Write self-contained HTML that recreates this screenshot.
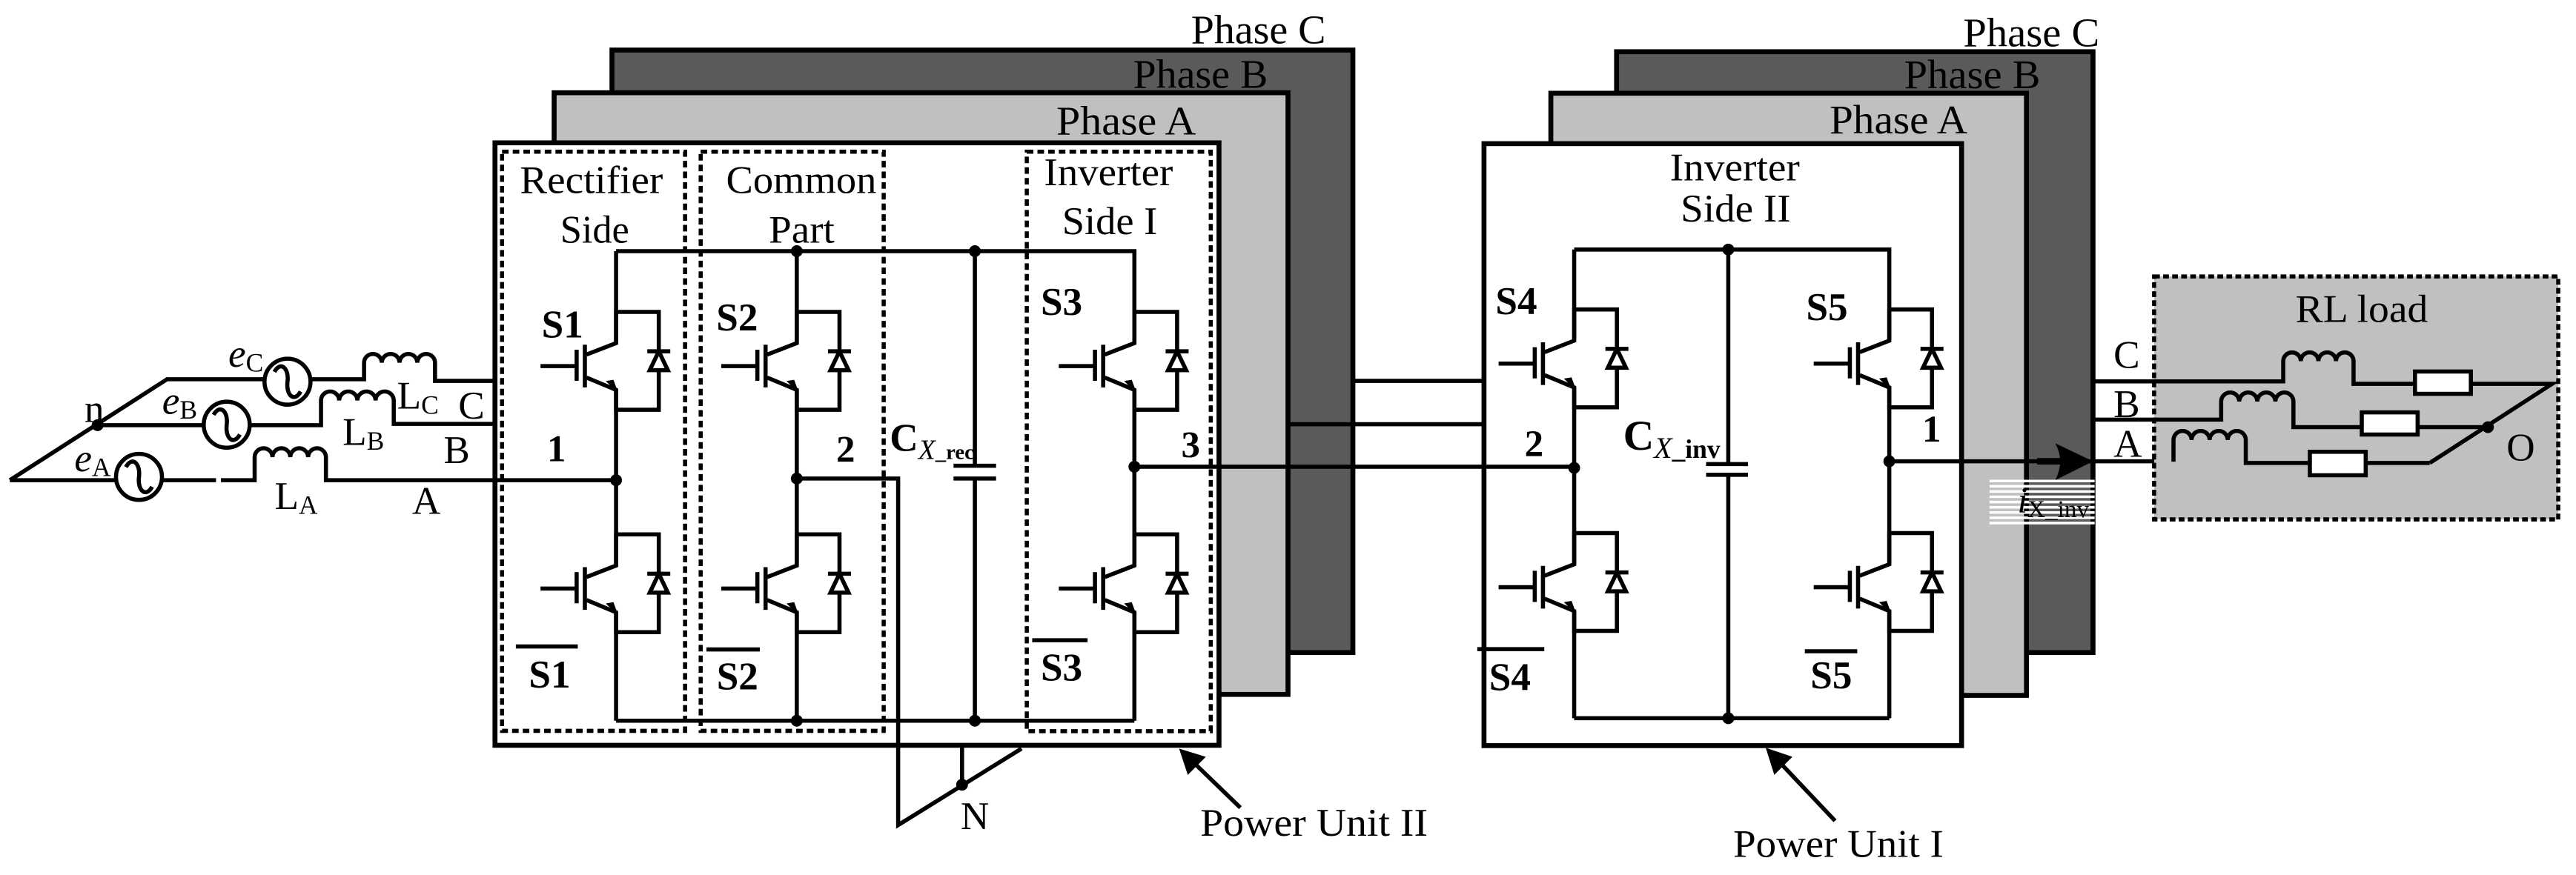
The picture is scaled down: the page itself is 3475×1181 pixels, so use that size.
<!DOCTYPE html>
<html><head><meta charset="utf-8"><style>
html,body{margin:0;padding:0;background:#fff;}
svg{display:block;}
text{font-family:"Liberation Serif","Times New Roman",serif;fill:#000;}
.b{font-weight:bold;}
</style></head><body>
<svg width="3475" height="1181" viewBox="0 0 1568 533" preserveAspectRatio="none" xmlns="http://www.w3.org/2000/svg">
<defs>
<g id="sw" fill="none" stroke="#000" stroke-width="2.5">
<path d="M0,0 H26 V59.6 H0"/>
<path d="M0,-1 V19 L-18,26"/>
<path d="M-19,20 V46"/>
<path d="M-24,23 V42"/>
<path d="M-46,33 H-24"/>
<path d="M-18,40 L0,47.5 V61"/>
<path d="M19,24 H33"/>
<path d="M26,24 L20.5,35.5 H31.5 Z" fill="#fff"/>
<path d="M0,47.5 L-5,42.5 L-2,42 Z" fill="#000" stroke-width="1.2"/>
</g>
<g id="src">
<circle cx="0" cy="0" r="14" fill="#fff" stroke="#000" stroke-width="2.5"/>
<path d="M-8,-6 C-4,-13 1,-8 0,0 C-1,8 4,13 8,6" fill="none" stroke="#000" stroke-width="2.5"/>
</g>
</defs>

<!-- Power Unit II boxes -->
<rect x="372.5" y="30.5" width="451" height="367" fill="#5a5a5a" stroke="#000" stroke-width="3"/>
<rect x="337.3" y="56.5" width="446.7" height="366.5" fill="#c0c0c0" stroke="#000" stroke-width="3"/>
<rect x="301.3" y="87" width="440.7" height="367" fill="#fff" stroke="#000" stroke-width="3"/>
<!-- Power Unit I boxes -->
<rect x="984" y="31.5" width="290" height="366" fill="#5a5a5a" stroke="#000" stroke-width="3"/>
<rect x="944" y="56.8" width="289.5" height="366.8" fill="#c0c0c0" stroke="#000" stroke-width="3"/>
<rect x="903.3" y="87.5" width="290.7" height="366.7" fill="#fff" stroke="#000" stroke-width="3"/>

<!-- Phase labels -->
<text x="725" y="26.3" font-size="25" textLength="82" lengthAdjust="spacingAndGlyphs">Phase C</text>
<text x="689.7" y="53.4" font-size="25" textLength="82" lengthAdjust="spacingAndGlyphs">Phase B</text>
<text x="643" y="82" font-size="25" textLength="85" lengthAdjust="spacingAndGlyphs">Phase A</text>
<text x="1195" y="28.3" font-size="25" textLength="83" lengthAdjust="spacingAndGlyphs">Phase C</text>
<text x="1159" y="53.8" font-size="25" textLength="83" lengthAdjust="spacingAndGlyphs">Phase B</text>
<text x="1113.6" y="81.2" font-size="25" textLength="84" lengthAdjust="spacingAndGlyphs">Phase A</text>

<!-- dashed boxes -->
<g fill="none" stroke="#000" stroke-width="2.5" stroke-dasharray="4 2.5">
<rect x="305.6" y="92.4" width="111.4" height="352.8"/>
<rect x="426.5" y="92.4" width="111.4" height="352.8"/>
<rect x="625" y="92.4" width="112" height="353"/>
</g>

<text x="316.5" y="117.5" font-size="24" textLength="87" lengthAdjust="spacingAndGlyphs">Rectifier</text>
<text x="341" y="147.7" font-size="24" textLength="42" lengthAdjust="spacingAndGlyphs">Side</text>
<text x="442" y="117.5" font-size="24" textLength="91.5" lengthAdjust="spacingAndGlyphs">Common</text>
<text x="468" y="147.7" font-size="24" textLength="40" lengthAdjust="spacingAndGlyphs">Part</text>
<text x="635.5" y="112.8" font-size="24" textLength="78.5" lengthAdjust="spacingAndGlyphs">Inverter</text>
<text x="646.5" y="142.6" font-size="24" textLength="58" lengthAdjust="spacingAndGlyphs">Side I</text>
<text x="1016.5" y="109.8" font-size="24" textLength="79" lengthAdjust="spacingAndGlyphs">Inverter</text>
<text x="1023" y="135" font-size="24" textLength="67" lengthAdjust="spacingAndGlyphs">Side II</text>

<!-- wires -->
<g fill="none" stroke="#000" stroke-width="2.5">
<path d="M375,153 H690.5 V209"/>
<path d="M375,439 H690.5"/>
<path d="M375,153 V209 M375,237.5 V344.5 M375,373 V439"/>
<path d="M485,153 V209 M485,237.5 V344.5 M485,373 V439"/>
<path d="M690.5,237.5 V344.5 M690.5,373 V439"/>
<path d="M593.4,153 V283.7 M593.4,291.5 V439 M580.4,283.7 H606.3 M580.4,291.5 H606.3"/>
<path d="M485,291.5 H546.7 V502.6 L621.8,456 M585.6,478 V454"/>
<path d="M958.2,152 H1150 V207.5"/>
<path d="M958.2,437.5 H1150"/>
<path d="M958.2,152 V207.5 M958.2,236 V343.7 M958.2,372.2 V437.5"/>
<path d="M1150,236 V343.7 M1150,372.2 V437.5"/>
<path d="M1052,152 V282.7 M1052,289.2 V437.5 M1038.5,282.7 H1064 M1038.5,289.2 H1064"/>
<path d="M690.5,284.3 H958.2"/>
<path d="M824,232 H903.3"/>
<path d="M784,258.4 H903.3"/>
<path d="M1150,281 H1323"/>
<path d="M6,292.5 L101.7,231 H221.6 V221 a5.4,5.4 0 0 1 10.8,0 a5.4,5.4 0 0 1 10.8,0 a5.4,5.4 0 0 1 10.8,0 a5.4,5.4 0 0 1 10.8,0 V232 H301.2"/>
<path d="M59.4,259 H195.4 V244 a5.5,5.5 0 0 1 11.07,0 a5.5,5.5 0 0 1 11.07,0 a5.5,5.5 0 0 1 11.07,0 a5.5,5.5 0 0 1 11.07,0 V258.2 H301.2"/>
<path d="M6,292.5 H131.5 M134.5,292.5 H155 V278.5 a5.4,5.4 0 0 1 10.85,0 a5.4,5.4 0 0 1 10.85,0 a5.4,5.4 0 0 1 10.85,0 a5.4,5.4 0 0 1 10.85,0 V292.5 H375"/>
</g>
<use href="#src" x="175" y="232.5"/>
<use href="#src" x="138" y="258.7"/>
<use href="#src" x="84.6" y="290.5"/>

<use href="#sw" x="375" y="190"/>
<use href="#sw" x="375" y="325.5"/>
<use href="#sw" x="485" y="190"/>
<use href="#sw" x="485" y="325.5"/>
<use href="#sw" x="690.5" y="190"/>
<use href="#sw" x="690.5" y="325.5"/>
<use href="#sw" x="958.2" y="188.5"/>
<use href="#sw" x="958.2" y="324.7"/>
<use href="#sw" x="1150" y="188.5"/>
<use href="#sw" x="1150" y="324.7"/>

<g fill="#000">
<circle cx="375" cy="292.5" r="3.6"/><circle cx="485" cy="291.5" r="3.6"/><circle cx="690.5" cy="284.3" r="3.6"/>
<circle cx="485" cy="153" r="3.6"/><circle cx="593.4" cy="153" r="3.6"/><circle cx="485" cy="439" r="3.6"/><circle cx="593.4" cy="439" r="3.6"/>
<circle cx="585.6" cy="478" r="3.6"/>
<circle cx="1052" cy="152" r="3.6"/><circle cx="1052" cy="437.5" r="3.6"/><circle cx="958.2" cy="285" r="3.6"/><circle cx="1150" cy="281" r="3.6"/>
<circle cx="59.4" cy="259" r="3.6"/>
</g>

<g font-size="24">
<text x="329.7" y="205.5" class="b">S1</text>
<text x="436" y="201.2" class="b">S2</text>
<text x="633.5" y="191.8" class="b">S3</text>
<text x="910.3" y="191.3" class="b">S4</text>
<text x="1099.4" y="195" class="b">S5</text>
<text x="321.9" y="418.9" class="b">S1</text>
<text x="436.2" y="420" class="b">S2</text>
<text x="633.5" y="414.5" class="b">S3</text>
<text x="906.4" y="420.5" class="b">S4</text>
<text x="1102" y="419.2" class="b">S5</text>
<text x="333" y="281" class="b" font-size="23">1</text>
<text x="509" y="281.5" class="b" font-size="23">2</text>
<text x="719" y="278.6" class="b" font-size="23">3</text>
<text x="928" y="278" class="b" font-size="23">2</text>
<text x="1170" y="269" class="b" font-size="23">1</text>
</g>
<g stroke="#000" stroke-width="2.5">
<path d="M314,393.8 H351.7 M430,395.6 H462.5 M628.3,390 H662 M899.2,395.4 H940 M1098.6,396.7 H1130.5"/>
</g>

<text x="541.6" y="274.7" font-size="24" class="b">C<tspan font-style="italic" font-weight="normal" font-size="17" dy="5">X</tspan><tspan font-size="13" dy="0">_rec</tspan></text>
<text x="988" y="274" font-size="26" class="b">C<tspan font-style="italic" font-weight="normal" font-size="18" dy="5">X</tspan><tspan font-size="16">_inv</tspan></text>

<text x="139" y="223.4" font-size="24" font-style="italic">e<tspan font-style="normal" font-size="16" dy="3">C</tspan></text>
<text x="98.7" y="252" font-size="24" font-style="italic">e<tspan font-style="normal" font-size="16" dy="3">B</tspan></text>
<text x="45.3" y="287" font-size="24" font-style="italic">e<tspan font-style="normal" font-size="16" dy="3">A</tspan></text>
<text x="51.4" y="257" font-size="24">n</text>
<text x="241.7" y="249" font-size="24">L<tspan font-size="16" dy="3">C</tspan></text>
<text x="208.5" y="271" font-size="24">L<tspan font-size="16" dy="3">B</tspan></text>
<text x="167.2" y="310" font-size="24">L<tspan font-size="16" dy="3">A</tspan></text>
<text x="279" y="255" font-size="24">C</text>
<text x="270" y="282" font-size="24">B</text>
<text x="250.8" y="313" font-size="24">A</text>

<text x="593.4" y="505" font-size="24" text-anchor="middle">N</text>
<g stroke="#000" stroke-width="2.5" fill="none">
<path d="M755,492 L724,462"/>
<path d="M1117,500 L1082,463"/>
</g>
<path d="M717.7,456 L734,461 L723,472 Z" fill="#000"/>
<path d="M1074.8,455.5 L1091,461 L1080,472 Z" fill="#000"/>
<text x="730.6" y="509" font-size="24" textLength="138.5" lengthAdjust="spacingAndGlyphs">Power Unit II</text>
<text x="1055" y="522" font-size="24" textLength="128" lengthAdjust="spacingAndGlyphs">Power Unit I</text>

<rect x="1311.2" y="168.4" width="246" height="148" fill="#c0c0c0" stroke="#000" stroke-width="2.5" stroke-dasharray="3.5 2"/>
<text x="1397.3" y="196" font-size="24" textLength="80.6" lengthAdjust="spacingAndGlyphs">RL load</text>
<g fill="none" stroke="#000" stroke-width="2.5">
<path d="M1274,232.3 H1389.8 V220 a5.35,5.35 0 0 1 10.7,0 a5.35,5.35 0 0 1 10.7,0 a5.35,5.35 0 0 1 10.7,0 a5.35,5.35 0 0 1 10.7,0 V233.8 H1553.5 L1479,282"/>
<path d="M1274,255.6 H1352 V244.6 a5.5,5.5 0 0 1 11,0 a5.5,5.5 0 0 1 11,0 a5.5,5.5 0 0 1 11,0 a5.5,5.5 0 0 1 11,0 V260.2 H1514.4"/>
<path d="M1323,281.2 V268 a5.5,5.5 0 0 1 11,0 a5.5,5.5 0 0 1 11,0 a5.5,5.5 0 0 1 11,0 a5.5,5.5 0 0 1 11,0 V282 H1479"/>
</g>
<g fill="#fff" stroke="#000" stroke-width="2.5">
<rect x="1470" y="226.3" width="34" height="13.6"/>
<rect x="1437.6" y="251.2" width="34" height="13.5"/>
<rect x="1406" y="275.2" width="34" height="14.3"/>
</g>
<circle cx="1514.4" cy="260.2" r="3.6" fill="#000"/>
<text x="1525.7" y="280.5" font-size="24">O</text>
<text x="1286.5" y="224" font-size="24">C</text>
<text x="1286.5" y="254.1" font-size="24">B</text>
<text x="1286.5" y="278.2" font-size="24">A</text>

<path d="M1240,281 H1262" stroke="#000" stroke-width="4"/>
<path d="M1274,281 L1251,270 Q1257,281 1251,292.5 Z" fill="#000"/>
<g stroke="#fff" stroke-width="1.6">
<path d="M1211,293 H1275 M1211,296.2 H1275 M1211,299.4 H1275 M1211,302.6 H1275 M1211,305.8 H1275 M1211,309 H1275 M1211,312.2 H1275 M1211,315.4 H1275 M1211,318.6 H1275"/>
</g>
<text x="1228" y="312" font-size="22" font-style="italic">i<tspan font-style="normal" font-size="15" dy="3">X_inv</tspan></text>
</svg>
</body></html>
